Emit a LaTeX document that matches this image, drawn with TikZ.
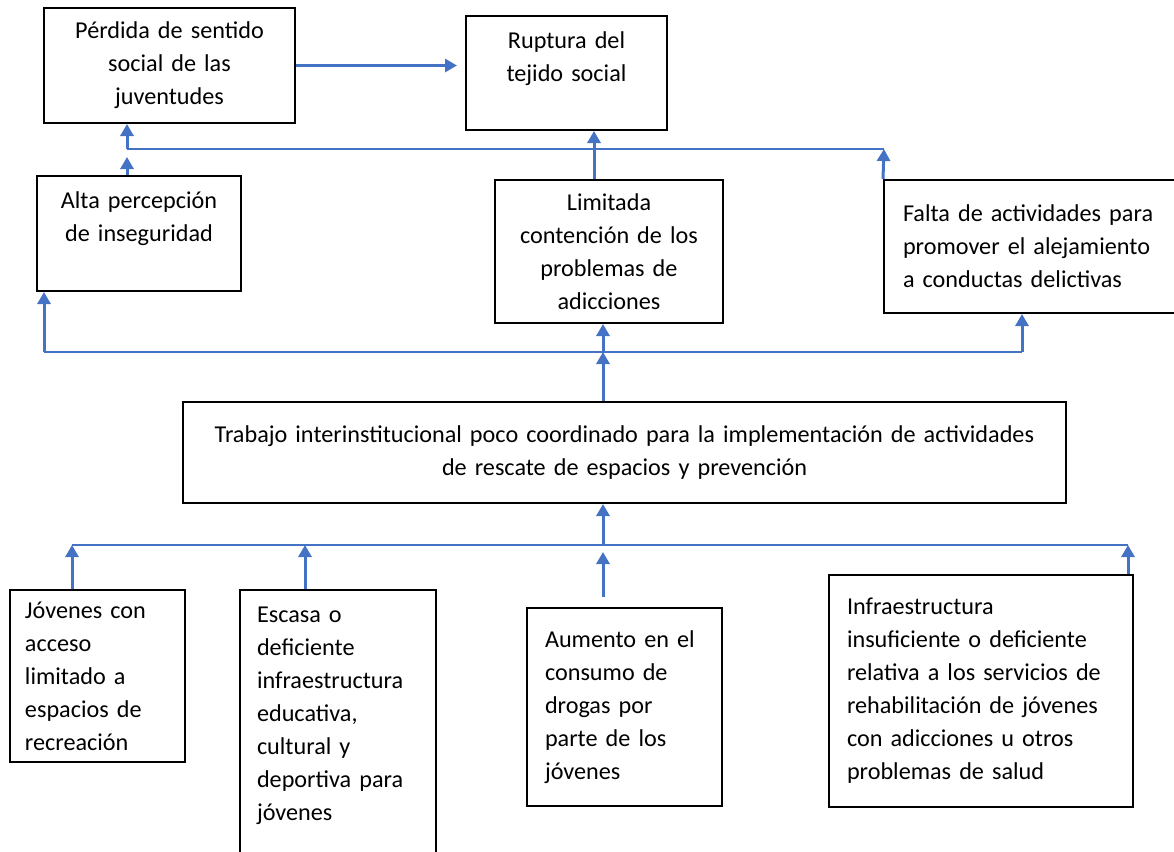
\documentclass[tikz,border=0pt]{standalone}
\usepackage{fontspec}
\setmainfont{Carlito}
\usetikzlibrary{arrows.meta}

\definecolor{azul}{HTML}{4472C4}
\tikzset{
  caja/.style={draw, line width=1pt, inner ysep=0pt, font=\fontsize{12.1}{16.5}\selectfont},
  flecha/.style={azul, line width=1.5pt, -{Triangle[width=6.5pt,length=6pt]}},
  linea/.style={azul, line width=0.7pt}
}

\begin{document}
\begin{tikzpicture}[x=0.5pt, y=-0.5pt]
\useasboundingbox (0,0) rectangle (1174,852);
\clip (0,0) rectangle (1174,852);
\node[caja, align=center, inner xsep=5pt, text width=115.5pt, minimum height=57.5pt] (perdida) at (169.5,65.5) {P\'erdida de sentido\\social de las\\juventudes};
\node[caja, align=center, inner xsep=5pt, text width=90.5pt, minimum height=57pt] (ruptura) at (566.5,73) {Ruptura del\\tejido social\\\mbox{}};
\node[caja, align=center, inner xsep=5pt, text width=92pt, minimum height=57.5pt] (alta) at (139,233.5) {Alta percepci\'on\\de inseguridad\\\mbox{}};
\node[caja, align=center, inner xsep=5pt, text width=104pt, minimum height=71.5pt] (limitada) at (609,251.5) {Limitada\\contenci\'on de los\\problemas de\\adicciones};
\node[caja, align=left, inner xsep=9.5pt, text width=136pt, minimum height=66.5pt] (falta) at (1039,246.5) {Falta de actividades para\\promover el alejamiento\\a conductas delictivas};
\node[caja, align=center, inner xsep=3pt, text width=435.5pt, minimum height=50.5pt] (trabajo) at (624.5,452.5) {Trabajo interinstitucional poco coordinado para la implementaci\'on de actividades\\de rescate de espacios y prevenci\'on};
\node[caja, align=left, inner xsep=7.5pt, text width=72.5pt, minimum height=86pt] (jovenes) at (97.5,676) {J\'ovenes con\\acceso\\limitado a\\espacios de\\recreaci\'on};
\node[caja, align=left, inner xsep=8.5pt, text width=81pt, minimum height=140pt] (escasa) at (338,730) {Escasa o\\deficiente\\infraestructura\\educativa,\\cultural y\\deportiva para\\j\'ovenes\\\mbox{}};
\node[caja, align=left, inner xsep=9pt, text width=79.5pt, minimum height=99pt] (aumento) at (624.5,707) {Aumento en el\\consumo de\\drogas por\\parte de los\\j\'ovenes};
\node[caja, align=left, inner xsep=9pt, text width=134pt, minimum height=116pt] (infra) at (981,691) {Infraestructura\\insuficiente o deficiente\\relativa a los servicios de\\rehabilitaci\'on de j\'ovenes\\con adicciones u otros\\problemas de salud};

\draw[flecha, shorten >=4pt] (perdida.east) -- (perdida.east -| ruptura.west);

% arriba
\coordinate (t1) at (127,149);
\coordinate (t2) at (884,149);
\coordinate (r1) at (594,149);
\draw[linea] (t1) -- (t2);
\draw[flecha] (t1) -- (t1 |- perdida.south);
\draw[flecha, shorten >=4pt] (t1 |- alta.north) -- (t1);
\draw[flecha] (falta.north west) -- (t2);
\draw[flecha] (r1 |- limitada.north) -- (r1 |- ruptura.south);

% en medio
\coordinate (m1) at (44,352);
\coordinate (m2) at (1022,352);
\coordinate (m3) at (603,352);
\draw[linea] (m1) -- (m2);
\draw[flecha] (m1) -- (m1 |- alta.south);
\draw[flecha] (m2) -- (m2 |- falta.south);
\draw[flecha] (m3) -- (m3 |- limitada.south);
\draw[flecha] (m3 |- trabajo.north) -- (m3);

% abajo
\coordinate (b1) at (72,545);
\coordinate (b2) at (1128,545);
\coordinate (b3) at (603,545);
\coordinate (b4) at (305,545);
\draw[linea] (b1) -- (b2);
\draw[flecha] (b3) -- (b3 |- trabajo.south);
\draw[flecha] (b1 |- jovenes.north) -- (b1);
\draw[flecha] (b4 |- escasa.north) -- (b4);
\draw[flecha, shorten <=5pt, shorten >=3.5pt] (b3 |- aumento.north) -- (b3);
\draw[flecha] (b2 |- infra.north) -- (b2);
\end{tikzpicture}
\end{document}
